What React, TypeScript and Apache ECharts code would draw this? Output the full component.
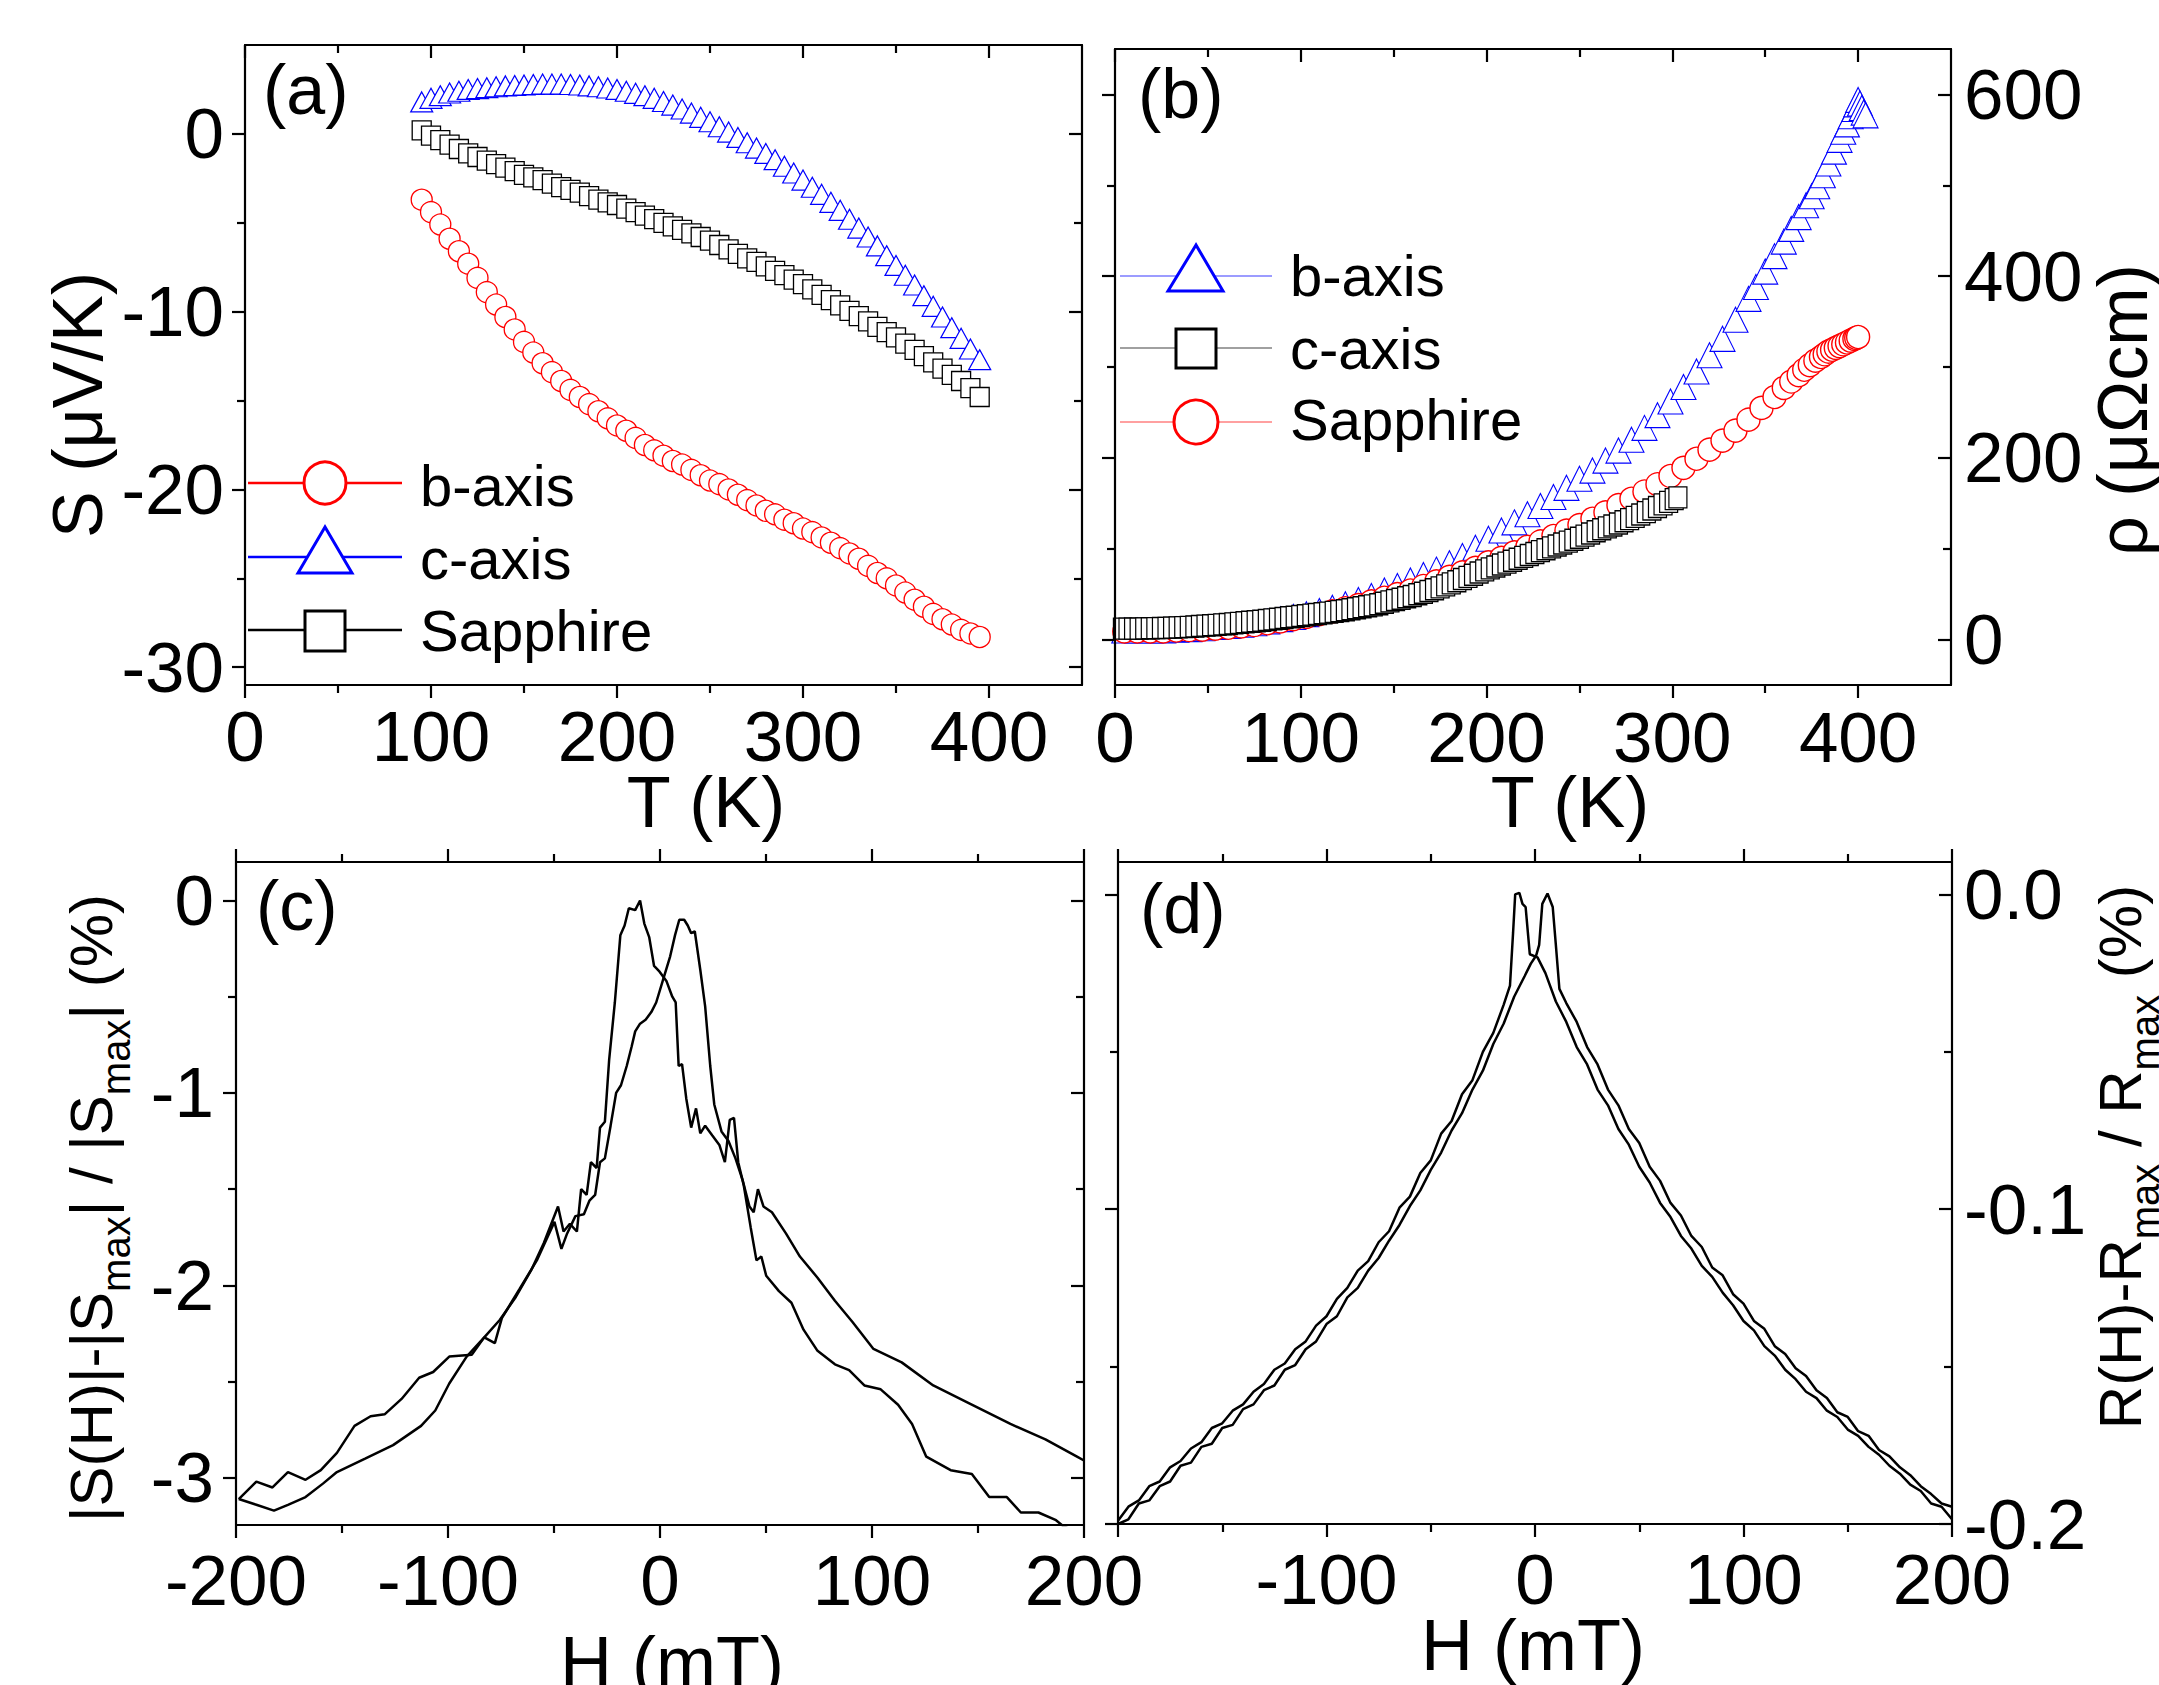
import React, { useEffect, useRef } from "react";
import * as echarts from "echarts";

const FONT = '"Liberation Sans", Arial, Helvetica, sans-serif';

// ---------------- Panel (a): thermopower S(T) ----------------
const aTemps = [95,100,105,110,115,120,125,130,135,140,145,150,155,160,165,170,175,180,185,190,195,200,205,210,215,220,225,230,235,240,245,250,255,260,265,270,275,280,285,290,295,300,305,310,315,320,325,330,335,340,345,350,355,360,365,370,375,380,385,390,395];
const aBaxis = [-3.7,-4.4,-5.1,-5.9,-6.6,-7.3,-8.1,-8.9,-9.6,-10.3,
  -11.0,-11.7,-12.3,-12.9,-13.4,-13.9,-14.4,-14.8,-15.2,-15.6,
  -16.0,-16.4,-16.7,-17.1,-17.5,-17.8,-18.1,-18.4,-18.6,-18.9,
  -19.2,-19.5,-19.7,-20.0,-20.3,-20.6,-20.9,-21.2,-21.4,-21.7,
  -21.9,-22.2,-22.4,-22.7,-23.0,-23.3,-23.6,-23.9,-24.3,-24.7,
  -25.0,-25.4,-25.8,-26.2,-26.6,-27.0,-27.3,-27.6,-27.9,-28.1,
  -28.3];
const aCaxis = [1.8,2.0,2.15,2.3,2.4,2.5,2.55,2.6,2.65,2.7,
  2.72,2.75,2.78,2.8,2.8,2.8,2.78,2.75,2.7,2.65,
  2.58,2.5,2.4,2.28,2.15,2.0,1.82,1.62,1.4,1.17,
  0.93,0.68,0.4,0.1,-0.2,-0.5,-0.8,-1.1,-1.45,-1.82,
  -2.2,-2.6,-3.0,-3.4,-3.85,-4.3,-4.8,-5.3,-5.8,-6.3,
  -6.85,-7.4,-7.95,-8.5,-9.1,-9.7,-10.3,-10.9,-11.5,-12.1,
  -12.7];
const aSapphire = [0.2,-0.1,-0.35,-0.6,-0.85,-1.1,-1.3,-1.5,-1.7,-1.9,
  -2.1,-2.3,-2.45,-2.6,-2.8,-3.0,-3.15,-3.3,-3.5,-3.7,
  -3.85,-4.0,-4.2,-4.4,-4.6,-4.8,-5.0,-5.2,-5.4,-5.6,
  -5.8,-6.0,-6.25,-6.5,-6.75,-7.0,-7.2,-7.45,-7.7,-7.95,
  -8.2,-8.45,-8.75,-9.05,-9.35,-9.65,-9.95,-10.25,-10.55,-10.85,
  -11.15,-11.45,-11.8,-12.15,-12.5,-12.85,-13.2,-13.55,-13.9,-14.3,
  -14.8];

// ---------------- Panel (b): resistivity rho(T) ----------------
const bTempsB = [5,12,19,26,33,40,47,54,61,68,75,82,89,96,103,110,117,124,131,138,145,152,159,166,173,180,187,194,201,208,215,222,229,236,243,250,257,264,271,278,285,292,299,306,313,320,327,334,341,345,350,355,360,364,368,372,375,378,381,384,387,390,392,394,396,398,399,400,401,402,403,404];
const bRhoB = [10,10,10,10,11,11.5,12.5,14,15,16.5,18,20,22.5,25,28,31.5,35,39,43.5,48,54,59,65,71,77,84,92,101,111,120,129,138,147,157,167,177,186,197,208,220,233,247,262,278,295,313,331,352,375,388,405,422,438,452,465,478,488,499,511,524,537,550,559,567,576,584,589,594,590,585,580,577];
const bTempsS = [5,12,19,26,33,40,47,54,61,68,75,82,89,96,103,110,117,124,131,138,145,152,159,166,173,180,187,194,201,208,215,222,229,236,243,250,257,264,271,278,285,292,299,306,313,320,327,334,341,348,355,360,364,368,371,374,377,380,382,384,386,388,390,392,394,396,398,399,400];
const bRhoS = [9,9,9,9,10,10.5,11,12,13,14.5,16,18,20,22.5,25,28,31,34.5,38,42,46,50,54,59,64,69,74,79,85,90,96,102,108,114,120,126,133,140,148,155,163,171,180,189,199,209,219,230,242,255,267,277,284,291,297,302,307,311,314,317,319,321,323,325,327,329,331,332,333];
const bTempsC = [4,7,10,13,16,19,22,25,28,31,34,37,40,43,46,49,52,55,58,61,64,67,70,73,76,79,82,85,88,91,94,97,100,103,106,109,112,115,118,121,124,127,130,133,136,139,142,145,148,151,154,157,160,163,166,169,172,175,178,181,184,187,190,193,196,199,202,205,208,211,214,217,220,223,226,229,232,235,238,241,244,247,250,253,256,259,262,265,268,271,274,277,280,283,286,289,292,295,298,301,303];
const bRhoC = [12.0,12.0,12.0,12.1,12.3,12.4,12.6,12.7,12.9,13.1,
  13.4,13.7,14.0,14.4,14.9,15.3,15.8,16.2,16.7,17.2,
  17.8,18.4,19.0,19.6,20.2,20.8,21.5,22.2,23.0,23.7,
  24.5,25.2,26.0,26.7,27.5,28.2,29.0,29.7,30.5,31.3,
  32.3,33.4,34.5,35.5,36.6,37.6,38.9,40.5,42.0,43.5,
  45.0,46.5,48.0,49.8,51.6,53.4,55.4,57.5,59.6,61.8,
  64.2,66.6,69.0,71.4,73.8,76.2,78.4,80.5,82.6,84.7,
  86.8,88.9,91.0,93.1,95.2,97.3,99.4,101.5,103.6,105.7,
  107.8,109.9,112.0,114.4,116.8,119.3,121.4,123.5,125.6,127.8,
  130.2,132.6,135.0,137.6,140.3,143.1,145.9,148.8,151.6,154.6,
  156.5];

// ---------------- Panel (c): thermopower field sweeps ----------------
const cH1 = [-198.7,-190.4,-182.8,-175.5,-167.2,-160.0,-152.4,-144.1,-136.5,-129.9,-121.9,-113.6,-107.0,-99.4,-88.8,-82.9,-75.6,-68.0,-60.7,-54.8,-48.1,-45.5,-42.5,-39.2,-37.2,-34.6,-32.6,-29.9,-28.3,-26.0,-24.0,-21.3,-18.7,-16.7,-14.7,-11.7,-9.4,-7.4,-5.1,-2.8,-0.2,3.1,5.8,7.4,8.8,10.4,12.4,14.7,17.0,19.0,21.3,24.6,28.0,30.6,32.9,34.9,36.9,39.5,42.8,45.5,47.8,50.1,56.1,62.0,67.7,74.3,82.5,89.2,96.4,104.1,112.3,118.9,125.6,137.1,147.1,155.3,163.6,170.2,178.5,186.8,190.1,200];
const cS1 = [-3.11,-3.02,-3.05,-2.97,-3.01,-2.96,-2.87,-2.73,-2.68,-2.67,-2.59,-2.48,-2.45,-2.37,-2.36,-2.27,-2.18,-2.06,-1.92,-1.78,-1.59,-1.72,-1.68,-1.72,-1.50,-1.53,-1.36,-1.39,-1.18,-1.15,-0.83,-0.53,-0.18,-0.13,-0.04,-0.05,0.0,-0.12,-0.19,-0.34,-0.37,-0.42,-0.50,-0.53,-0.86,-0.85,-1.03,-1.18,-1.08,-1.21,-1.17,-1.22,-1.27,-1.36,-1.14,-1.13,-1.36,-1.48,-1.70,-1.87,-1.85,-1.95,-2.03,-2.09,-2.23,-2.34,-2.41,-2.44,-2.52,-2.54,-2.62,-2.72,-2.89,-2.96,-2.98,-3.10,-3.10,-3.18,-3.18,-3.22,-3.25,-3.30];
const cH2 = [-198.7,-190.4,-182.1,-175.5,-167.2,-159.0,-152.4,-139.1,-125.9,-112.7,-106.0,-99.4,-91.2,-82.9,-77.9,-74.6,-66.3,-58.1,-49.8,-46.5,-43.8,-39.9,-35.9,-33.3,-30.6,-28.3,-26.0,-23.3,-20.7,-18.4,-15.7,-13.4,-11.7,-9.4,-6.8,-4.1,-1.8,1.5,4.8,7.1,9.1,11.4,13.1,14.7,16.4,19.0,21.3,23.7,25.6,29.0,32.3,35.6,38.9,42.2,44.2,46.2,48.8,52.8,59.4,66.0,74.3,82.5,90.8,100.7,114.0,128.9,145.4,165.3,181.8,196.7,200];
const cS2 = [-3.11,-3.14,-3.17,-3.14,-3.10,-3.03,-2.97,-2.90,-2.83,-2.73,-2.65,-2.51,-2.37,-2.27,-2.30,-2.17,-2.02,-1.87,-1.67,-1.81,-1.73,-1.64,-1.63,-1.56,-1.53,-1.36,-1.34,-1.17,-1.00,-0.96,-0.86,-0.76,-0.68,-0.64,-0.62,-0.58,-0.53,-0.41,-0.29,-0.18,-0.10,-0.10,-0.13,-0.17,-0.16,-0.36,-0.55,-0.86,-1.06,-1.20,-1.25,-1.34,-1.45,-1.59,-1.62,-1.50,-1.59,-1.62,-1.73,-1.85,-1.96,-2.08,-2.19,-2.33,-2.40,-2.52,-2.61,-2.72,-2.80,-2.89,-2.91];

// ---------------- Panel (d): magnetoresistance field sweeps ----------------
const dH1 = [-200,-195,-190,-185,-180,-175,-170,-165,-160,-155,-150,-145,-140,-135,-130,-125,-120,-115,-110,-105,-100,-95,-90,-85,-80,-75,-70,-65,-60,-55,-50,-45,-40,-35,-30,-25,-20,-15,-12,-10.5,-9.5,-7.5,-6,-4.5,-2.5,1.2,5,10,15,20,25,30,35,40,45,50,55,60,65,70,75,80,85,90,95,100,105,110,115,120,125,130,135,140,145,150,155,160,165,170,175,180,185,190,195,200];
const dR1 = [-0.1990,-0.1945,-0.1925,-0.1880,-0.1865,-0.1820,-0.1800,-0.1760,-0.1740,-0.1695,
  -0.1680,-0.1640,-0.1620,-0.1580,-0.1555,-0.1510,-0.1490,-0.1445,-0.1420,-0.1370,
  -0.1340,-0.1285,-0.1250,-0.1195,-0.1165,-0.1105,-0.1070,-0.0995,-0.0960,-0.0885,
  -0.0845,-0.0760,-0.0720,-0.0635,-0.0590,-0.0500,-0.0440,-0.0350,
  -0.0290,-0.0120,0.0000,0.0005,-0.0030,-0.0040,-0.0190,-0.0200,
  -0.0250,-0.0340,-0.0405,-0.0485,-0.0540,-0.0620,-0.0670,-0.0745,-0.0795,-0.0865,
  -0.0915,-0.0980,-0.1025,-0.1085,-0.1125,-0.1180,-0.1215,-0.1265,-0.1305,-0.1355,
  -0.1385,-0.1435,-0.1465,-0.1510,-0.1540,-0.1580,-0.1600,-0.1640,-0.1660,-0.1700,
  -0.1720,-0.1755,-0.1780,-0.1815,-0.1840,-0.1875,-0.1895,-0.1935,-0.1945,-0.1985];
const dH2 = [-200,-195,-190,-185,-180,-175,-170,-165,-160,-155,-150,-145,-140,-135,-130,-125,-120,-115,-110,-105,-100,-95,-90,-85,-80,-75,-70,-65,-60,-55,-50,-45,-40,-35,-30,-25,-20,-15,-10,-5,-2,0.5,2,3.5,6,8.5,10,11.7,15,20,25,30,35,40,45,50,55,60,65,70,75,80,85,90,95,100,105,110,115,120,125,130,135,140,145,150,155,160,165,170,175,180,185,190,195,200];
const dR2 = [-0.2000,-0.1985,-0.1935,-0.1925,-0.1880,-0.1865,-0.1815,-0.1805,-0.1755,-0.1745,
  -0.1695,-0.1685,-0.1635,-0.1620,-0.1575,-0.1560,-0.1510,-0.1495,-0.1445,-0.1420,
  -0.1365,-0.1340,-0.1280,-0.1250,-0.1195,-0.1155,-0.1100,-0.1050,-0.0990,-0.0940,
  -0.0875,-0.0820,-0.0750,-0.0695,-0.0620,-0.0560,-0.0475,-0.0410,-0.0325,-0.0260,
  -0.0220,-0.0195,-0.0160,-0.0030,0.0003,-0.0040,-0.0160,-0.0300,
  -0.0345,-0.0405,-0.0485,-0.0540,-0.0620,-0.0670,-0.0745,-0.0790,-0.0865,-0.0910,
  -0.0980,-0.1020,-0.1085,-0.1120,-0.1185,-0.1210,-0.1270,-0.1300,-0.1355,-0.1380,
  -0.1435,-0.1460,-0.1505,-0.1530,-0.1575,-0.1600,-0.1645,-0.1660,-0.1705,-0.1720,
  -0.1765,-0.1785,-0.1820,-0.1845,-0.1880,-0.1905,-0.1935,-0.1945];

// ---------------- Tick values ----------------
const tempMajor = [0, 100, 200, 300, 400];
const tempMinor = [50, 150, 250, 350];
const aYMajor = [-30, -20, -10, 0];
const aYMinor = [-25, -15, -5];
const bYMajor = [0, 200, 400, 600];
const bYMinor = [100, 300, 500];
const hMajor = [-200, -100, 0, 100, 200];
const hMinor = [-150, -50, 50, 150];
const dXLabels = [-100, 0, 100, 200];
const cYMajor = [-3, -2, -1, 0];
const cYMinor = [-2.5, -1.5, -0.5];
const dYMajor = [-0.2, -0.1, 0];
const dYMinor = [-0.15, -0.05];

type SideCfg = {
  grid: number;
  position: string;
  min: number;
  max: number;
  major: number[];
  minor: number[];
  labels?: number[];
  fmt?: (v: number) => string;
  inside: boolean;
  margin?: number;
};

function buildSide(s: SideCfg): any[] {
  const common = {
    type: "value",
    gridIndex: s.grid,
    position: s.position,
    min: s.min,
    max: s.max,
    splitLine: { show: false },
    minorTick: { show: false },
    minorSplitLine: { show: false },
    axisPointer: { show: false },
    silent: true,
    z: 5,
  };
  const major = {
    ...common,
    axisLine: { show: true, onZero: false, lineStyle: { color: "#000", width: 2.2 } },
    axisTick: { show: true, inside: s.inside, length: 13, customValues: s.major, lineStyle: { color: "#000", width: 2.2 } },
    axisLabel: s.labels
      ? {
          show: true,
          customValues: s.labels,
          formatter: s.fmt ?? ((v: number) => String(v)),
          margin: s.margin ?? 14,
          fontSize: 71,
          fontFamily: FONT,
          color: "#000",
        }
      : { show: false },
  };
  const minor = {
    ...common,
    axisLine: { show: false, onZero: false },
    axisTick: { show: true, inside: s.inside, length: 8, customValues: s.minor, lineStyle: { color: "#000", width: 2.2 } },
    axisLabel: { show: false },
  };
  return [major, minor];
}

function txt(text: string, x: number, y: number, size: number, extra: any = {}) {
  return {
    type: "text",
    x,
    y,
    rotation: extra.rotation || 0,
    silent: true,
    z: 20,
    style: {
      text,
      x: 0,
      y: 0,
      fill: "#000",
      fontSize: size,
      fontFamily: FONT,
      align: extra.align || "center",
      verticalAlign: "middle",
      textAlign: extra.align || "center",
      textVerticalAlign: "middle",
      rich: extra.rich,
    },
  };
}

function buildOption() {
  const grids = [
    { left: 245, top: 45, width: 837, height: 640 },
    { left: 1115, top: 49, width: 836, height: 636 },
    { left: 236, top: 862, width: 848, height: 663 },
    { left: 1118, top: 862, width: 834, height: 662 },
  ].map((g) => ({ ...g, containLabel: false, outerBoundsMode: "none", show: false }));

  const xAxes: any[] = [];
  const yAxes: any[] = [];

  // (a)
  xAxes.push(...buildSide({ grid: 0, position: "bottom", min: 0, max: 450, major: tempMajor, minor: tempMinor, labels: tempMajor, inside: false, margin: 16 }));
  xAxes.push(...buildSide({ grid: 0, position: "top", min: 0, max: 450, major: tempMajor, minor: tempMinor, inside: true }));
  yAxes.push(...buildSide({ grid: 0, position: "left", min: -31, max: 5, major: aYMajor, minor: aYMinor, labels: aYMajor, inside: false, margin: 21 }));
  yAxes.push(...buildSide({ grid: 0, position: "right", min: -31, max: 5, major: aYMajor, minor: aYMinor, inside: true }));
  // (b)
  xAxes.push(...buildSide({ grid: 1, position: "bottom", min: 0, max: 450, major: tempMajor, minor: tempMinor, labels: tempMajor, inside: false, margin: 17 }));
  xAxes.push(...buildSide({ grid: 1, position: "top", min: 0, max: 450, major: tempMajor, minor: tempMinor, inside: true }));
  yAxes.push(...buildSide({ grid: 1, position: "left", min: -50, max: 650, major: bYMajor, minor: bYMinor, inside: false }));
  yAxes.push(...buildSide({ grid: 1, position: "right", min: -50, max: 650, major: bYMajor, minor: bYMinor, labels: bYMajor, inside: true, margin: 13 }));
  // (c)
  xAxes.push(...buildSide({ grid: 2, position: "bottom", min: -200, max: 200, major: hMajor, minor: hMinor, labels: hMajor, inside: false, margin: 20 }));
  xAxes.push(...buildSide({ grid: 2, position: "top", min: -200, max: 200, major: hMajor, minor: hMinor, inside: false }));
  yAxes.push(...buildSide({ grid: 2, position: "left", min: -3.245, max: 0.2, major: cYMajor, minor: cYMinor, labels: cYMajor, inside: false, margin: 22 }));
  yAxes.push(...buildSide({ grid: 2, position: "right", min: -3.245, max: 0.2, major: cYMajor, minor: cYMinor, inside: true }));
  // (d)
  xAxes.push(...buildSide({ grid: 3, position: "bottom", min: -200, max: 200, major: hMajor, minor: hMinor, labels: dXLabels, inside: false, margin: 20 }));
  xAxes.push(...buildSide({ grid: 3, position: "top", min: -200, max: 200, major: hMajor, minor: hMinor, inside: false }));
  yAxes.push(...buildSide({ grid: 3, position: "left", min: -0.2, max: 0.0103, major: dYMajor, minor: dYMinor, inside: false }));
  yAxes.push(...buildSide({ grid: 3, position: "right", min: -0.2, max: 0.0103, major: dYMajor, minor: dYMinor, labels: dYMajor, inside: true, margin: 12, fmt: (v: number) => v.toFixed(1) }));

  const scatter = (p: number, xs: number[], ys: number[], symbol: string, size: any, color: string, bw: number) => ({
    type: "scatter",
    xAxisIndex: p * 4,
    yAxisIndex: p * 4,
    data: xs.map((x, i) => [x, ys[i]]),
    symbol,
    symbolSize: size,
    silent: true,
    emphasis: { disabled: true },
    itemStyle: { color: "#fff", borderColor: color, borderWidth: bw, opacity: 1 },
    z: 3,
  });
  const line = (p: number, xs: number[], ys: number[]) => ({
    type: "line",
    xAxisIndex: p * 4,
    yAxisIndex: p * 4,
    data: xs.map((x, i) => [x, ys[i]]),
    showSymbol: false,
    symbol: "none",
    silent: true,
    clip: true,
    emphasis: { disabled: true },
    lineStyle: { color: "#000", width: 2.5 },
    z: 3,
  });

  const series = [
    scatter(0, aTemps, aSapphire, "rect", 19, "#000", 1.3),
    scatter(0, aTemps, aCaxis, "triangle", [22, 20], "#0000ff", 1.2),
    scatter(0, aTemps, aBaxis, "circle", 21, "#ff0000", 1.3),
    scatter(1, bTempsB, bRhoB, "triangle", [25, 25], "#0000ff", 1.1),
    scatter(1, bTempsS, bRhoS, "circle", 23, "#ff0000", 1.4),
    scatter(1, bTempsC, bRhoC, "rect", [18, 21], "#000", 1.3),
    line(2, cH1, cS1),
    line(2, cH2, cS2),
    line(3, dH1, dR1),
    line(3, dH2, dR2),
  ];

  const subRich = {
    m: { fontSize: 60, fontFamily: FONT, lineHeight: 90 },
    s: { fontSize: 40, fontFamily: FONT, lineHeight: 40, verticalAlign: "bottom" },
  };

  const graphic: any[] = [
    // panel labels
    txt("(a)", 263, 90, 70, { align: "left" }),
    txt("(b)", 1138, 94, 70, { align: "left" }),
    txt("(c)", 256, 906, 70, { align: "left" }),
    txt("(d)", 1140, 909, 70, { align: "left" }),
    // axis titles
    txt("T (K)", 706, 802, 72),
    txt("T (K)", 1570, 802, 72),
    txt("H (mT)", 672, 1662, 72),
    txt("H (mT)", 1533, 1645, 72),
    txt("S (\u03bcV/K)", 78, 405, 70, { rotation: Math.PI / 2 }),
    txt("\u03c1 (\u03bc\u03a9cm)", 2123, 410, 70, { rotation: Math.PI / 2 }),
    txt("{m||S(H)|-|S}{s|max}{m|| / |S}{s|max}{m|| (%)}", 91, 1208, 60, { rotation: Math.PI / 2, rich: subRich }),
    txt("{m|R(H)-R}{s|max}{m| / R}{s|max}{m| (%)}", 2120, 1157, 60, { rotation: Math.PI / 2, rich: subRich }),

    // legend (a)
    { type: "line", silent: true, z: 15, shape: { x1: 248, y1: 483, x2: 402, y2: 483 }, style: { stroke: "#ff0000", lineWidth: 2.5 } },
    { type: "circle", silent: true, z: 16, shape: { cx: 325, cy: 483, r: 21 }, style: { fill: "#fff", stroke: "#ff0000", lineWidth: 3 } },
    txt("b-axis", 420, 485, 58, { align: "left" }),
    { type: "line", silent: true, z: 15, shape: { x1: 248, y1: 557, x2: 402, y2: 557 }, style: { stroke: "#0000ff", lineWidth: 2.5 } },
    { type: "polygon", silent: true, z: 16, shape: { points: [[325, 527], [298, 573], [352, 573]] }, style: { fill: "#fff", stroke: "#0000ff", lineWidth: 3 } },
    txt("c-axis", 420, 558, 58, { align: "left" }),
    { type: "line", silent: true, z: 15, shape: { x1: 248, y1: 630, x2: 402, y2: 630 }, style: { stroke: "#000", lineWidth: 2.5 } },
    { type: "rect", silent: true, z: 16, shape: { x: 305, y: 611, width: 40, height: 40 }, style: { fill: "#fff", stroke: "#000", lineWidth: 3 } },
    txt("Sapphire", 420, 630, 58, { align: "left" }),

    // legend (b)
    { type: "line", silent: true, z: 15, shape: { x1: 1120, y1: 276, x2: 1272, y2: 276 }, style: { stroke: "#7b7bff", lineWidth: 1.4 } },
    { type: "polygon", silent: true, z: 16, shape: { points: [[1196, 245], [1168, 291], [1223, 291]] }, style: { fill: "#fff", stroke: "#0000ff", lineWidth: 3 } },
    txt("b-axis", 1290, 275, 58, { align: "left" }),
    { type: "line", silent: true, z: 15, shape: { x1: 1120, y1: 348, x2: 1272, y2: 348 }, style: { stroke: "#808080", lineWidth: 1.4 } },
    { type: "rect", silent: true, z: 16, shape: { x: 1176, y: 329, width: 40, height: 39 }, style: { fill: "#fff", stroke: "#000", lineWidth: 3 } },
    txt("c-axis", 1290, 348, 58, { align: "left" }),
    { type: "line", silent: true, z: 15, shape: { x1: 1120, y1: 422, x2: 1272, y2: 422 }, style: { stroke: "#ff8080", lineWidth: 1.4 } },
    { type: "circle", silent: true, z: 16, shape: { cx: 1196, cy: 422, r: 22 }, style: { fill: "#fff", stroke: "#ff0000", lineWidth: 3 } },
    txt("Sapphire", 1290, 419, 58, { align: "left" }),
  ];

  return {
    animation: false,
    backgroundColor: "#ffffff",
    textStyle: { fontFamily: FONT },
    grid: grids,
    xAxis: xAxes,
    yAxis: yAxes,
    series,
    graphic,
  };
}

export default function App() {
  const ref = useRef<HTMLDivElement>(null);
  useEffect(() => {
    if (!ref.current) return;
    const chart = echarts.init(ref.current, null, { renderer: "svg" });
    chart.setOption(buildOption() as any);
    return () => {
      chart.dispose();
    };
  }, []);
  return (
    <div
      ref={ref}
      style={{ position: "absolute", left: 0, top: 0, width: 2159, height: 1685, background: "#fff" }}
    />
  );
}
